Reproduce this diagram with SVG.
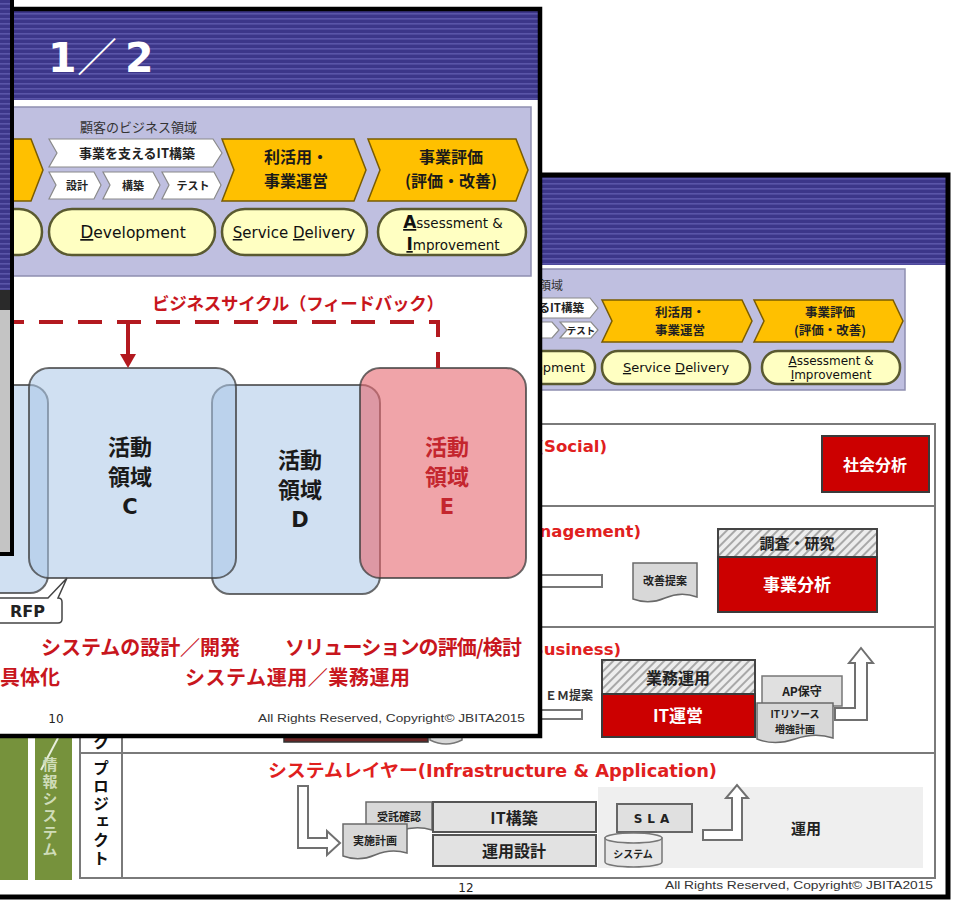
<svg xmlns="http://www.w3.org/2000/svg" width="955" height="902" viewBox="0 0 955 902">
<defs>
<pattern id="stripes" patternUnits="userSpaceOnUse" width="10" height="5">
<rect width="10" height="5" fill="#3c3689"/>
<rect y="3" width="10" height="1.6" fill="#5a55a8"/>
</pattern>
<pattern id="hatch" patternUnits="userSpaceOnUse" width="6" height="6" patternTransform="rotate(45)">
<rect width="6" height="6" fill="#ededed"/>
<rect width="2" height="6" fill="#a8a8a8"/>
</pattern>
</defs>
<style>
.jb{font-family:"Noto Sans CJK JP","Noto Sans",sans-serif;font-weight:700}
.j{font-family:"Noto Sans CJK JP","Noto Sans",sans-serif}
.vb{font-family:"DejaVu Sans","Liberation Sans",sans-serif;font-weight:700}
.v{font-family:"DejaVu Sans","Liberation Sans",sans-serif}
.ls{font-family:"Liberation Sans",Arial,sans-serif}
.vert{writing-mode:vertical-rl}
.yel{fill:#ffc000;stroke:#7a5c00;stroke-width:1.5}
.wch{fill:#ffffff;stroke:#8a8a8a;stroke-width:1.2}
.pill{fill:#ffffc2;stroke:#5a5a30;stroke-width:2.5}
.lav{fill:#bfbfe0;stroke:#8e8eb0;stroke-width:1.5}
.redbox{fill:#cc0000;stroke:#3a3a3a;stroke-width:2}
.doc{fill:#d8d8d8;stroke:#6a6a6a;stroke-width:1.5}
.gbox{fill:#e2e2e2;stroke:#555;stroke-width:2}
.harrow{fill:#ffffff;stroke:#707070;stroke-width:2}
.blue{fill:#a9c6e8;fill-opacity:0.55;stroke:#3c3c3c;stroke-opacity:0.75;stroke-width:2}
.pink{fill:#e66870;fill-opacity:0.6;stroke:#3c3c3c;stroke-opacity:0.75;stroke-width:2}
.rtxt{fill:#e0201e}
.ct{text-anchor:middle}
.u{text-decoration:underline}
</style>

<rect width="955" height="902" fill="#ffffff"/>

<!-- ===== Back slide (page 12) ===== -->
<g id="slide12">
<rect x="-300" y="175" width="1248" height="722" fill="#ffffff"/>
<rect x="-300" y="177" width="1246" height="88" fill="url(#stripes)"/>
<g id="s12-process">
<rect class="lav" x="460" y="269" width="445" height="121"/>
<text class="j" x="563" y="290" font-size="12" text-anchor="end" fill="#333">顧客のビジネス領域</text>
<polygon class="wch" points="440,298 590,298 598,308 590,318 440,318"/>
<text class="jb" x="584" y="312" font-size="11.5" text-anchor="end" fill="#222">事業を支えるIT構築</text>
<polygon class="wch" points="500,322 552,322 559,330 552,338 500,338"/>
<polygon class="wch" points="560,322 591,322 598,330 591,338 560,338 567,330"/>
<text class="jb ct" x="581" y="334" font-size="9.5" fill="#222">テスト</text>
<g id="s12-use">
<polygon class="yel" points="602,300 742,300 752,321 742,342 602,342 612,321"/>
<text class="jb ct" x="680" y="317" font-size="12.5" fill="#222">利活用・</text>
<text class="jb ct" x="680" y="335" font-size="12.5" fill="#222">事業運営</text>
</g>
<g id="s12-eval">
<polygon class="yel" points="754,300 893,300 903,321 893,342 754,342 764,321"/>
<text class="jb ct" x="830" y="317" font-size="12.5" fill="#222">事業評価</text>
<text class="jb ct" x="830" y="335" font-size="12.5" fill="#222">(評価・改善)</text>
</g>
<rect class="pill" x="460" y="351" width="135" height="33" rx="16"/>
<text class="v" x="585" y="372" font-size="13" text-anchor="end" fill="#111">Development</text>
<rect class="pill" x="602" y="351" width="148" height="33" rx="16"/>
<text class="v ct" x="676" y="372" font-size="13" fill="#111"><tspan class="u">S</tspan>ervice  <tspan class="u">D</tspan>elivery</text>
<rect class="pill" x="762" y="351" width="138" height="33" rx="16"/>
<text class="v ct" x="831" y="365" font-size="12" fill="#111"><tspan class="u">A</tspan>ssessment &amp;</text>
<text class="v ct" x="831" y="379" font-size="12" fill="#111"><tspan class="u">I</tspan>mprovement</text>
</g>

<g id="s12-table" fill="none" stroke="#7a7a7a" stroke-width="2">
<rect x="80" y="424" width="855" height="454"/>
<line x1="80" y1="506" x2="935" y2="506"/>
<line x1="80" y1="627" x2="935" y2="627"/>
<line x1="80" y1="753" x2="935" y2="753"/>
<line x1="122" y1="424" x2="122" y2="878"/>
</g>

<g id="s12-green">
<rect x="-5" y="600" width="33" height="280" fill="#76923c"/>
<rect x="35" y="600" width="37" height="280" fill="#76923c"/>
<line x1="58" y1="738" x2="41" y2="770" stroke="#e8eedc" stroke-width="2"/>
<text class="jb vert" x="50" y="757" font-size="15" letter-spacing="2" fill="#cfdcb8">情報システム</text>
</g>

<text class="jb ct" x="101" y="748" font-size="16" fill="#111">ク</text>
<text class="jb vert" x="101" y="760" font-size="16" letter-spacing="2" fill="#111">プロジェクト</text>

<!-- Row 1 Social -->
<g id="row-social">
<text class="vb rtxt" x="607" y="452" font-size="16.5" text-anchor="end">(Social)</text>
<g id="n-social-analysis">
<rect class="redbox" x="822" y="436" width="107" height="56"/>
<text class="jb ct" x="875" y="471" font-size="16" fill="#fff">社会分析</text>
</g>
</g>

<!-- Row 2 Management -->
<g id="row-management">
<text class="vb rtxt" x="641" y="537" font-size="16.5" text-anchor="end">(Management)</text>
<rect x="500" y="575" width="102" height="12" fill="#fff" stroke="#777" stroke-width="2"/>
<g id="n-kaizen">
<path class="doc" d="M633,563 H697 V597 Q681,591 665,598 Q649,605 633,599 Z"/>
<text class="jb ct" x="665" y="585" font-size="11" fill="#222">改善提案</text>
</g>
<g id="n-research">
<rect x="718" y="529" width="159" height="28" fill="url(#hatch)" stroke="#444" stroke-width="2"/>
<text class="jb ct" x="797" y="549" font-size="15" fill="#222">調査・研究</text>
</g>
<g id="n-biz-analysis">
<rect class="redbox" x="718" y="557" width="159" height="55"/>
<text class="jb ct" x="797" y="591" font-size="17" fill="#fff">事業分析</text>
</g>
</g>

<!-- Row 3 Business -->
<g id="row-business">
<text class="vb rtxt" x="621" y="655" font-size="16.5" text-anchor="end">(Business)</text>
<text class="jb" x="545" y="700" font-size="12" fill="#333">ＥＭ提案</text>
<rect x="500" y="710" width="82" height="9" fill="#fff" stroke="#777" stroke-width="2"/>
<rect x="284" y="726" width="144" height="16" fill="#6a2424" stroke="#333" stroke-width="1.5"/>
<path d="M430,732 V740 Q446,748 462,740 V732" fill="#d8d8d8" stroke="#777" stroke-width="1.5"/>
<g id="n-gyomu">
<rect x="602" y="660" width="153" height="34" fill="url(#hatch)" stroke="#444" stroke-width="2"/>
<text class="jb ct" x="678" y="684" font-size="16" fill="#222">業務運用</text>
</g>
<g id="n-itunei">
<rect class="redbox" x="602" y="694" width="153" height="43"/>
<text class="jb ct" x="678" y="722" font-size="17" fill="#fff">IT運営</text>
</g>
<g id="n-ap">
<rect x="762" y="676" width="80" height="30" fill="#e0e0e0" stroke="#777" stroke-width="1.5"/>
<text class="jb ct" x="802" y="696" font-size="12" fill="#222">AP保守</text>
</g>
<g id="n-itres">
<path class="doc" d="M757,703 H833 V738 Q815,732 795,739 Q775,746 757,739 Z"/>
<text class="jb ct" x="795" y="718" font-size="10" fill="#222">ITリソース</text>
<text class="jb ct" x="795" y="733" font-size="10" fill="#222">増強計画</text>
</g>
</g>

<!-- Row 4 System -->
<g id="row-system">
<text class="rtxt" x="268" y="777" textLength="449" lengthAdjust="spacingAndGlyphs"><tspan class="jb" font-size="18">システムレイヤー</tspan><tspan class="vb" font-size="17">(Infrastructure &amp; Application)</tspan></text>
<rect x="598" y="787" width="325" height="81" fill="#efefef"/>
<g id="n-jutaku">
<path class="doc" d="M366,802 H432 V830 Q416,825 400,831 Q384,837 366,832 Z"/>
<text class="jb ct" x="399" y="821" font-size="11" fill="#222">受託確認</text>
</g>
<g id="n-jisshi">
<path class="doc" d="M343,824 H407 V853 Q391,848 375,855 Q359,862 343,856 Z"/>
<text class="jb ct" x="375" y="845" font-size="11" fill="#222">実施計画</text>
</g>
<g id="n-itkochiku">
<rect class="gbox" x="433" y="802" width="163" height="30"/>
<text class="jb ct" x="514" y="824" font-size="16" fill="#222">IT構築</text>
</g>
<g id="n-unyosekkei">
<rect class="gbox" x="433" y="835" width="163" height="31"/>
<text class="jb ct" x="514" y="857" font-size="16" fill="#222">運用設計</text>
</g>
<g id="n-sla">
<rect x="617" y="804" width="75" height="28" fill="#e0e0e0" stroke="#666" stroke-width="2"/>
<text class="vb ct" x="654" y="823" font-size="12" fill="#222" letter-spacing="5">SLA</text>
</g>
<g id="n-system">
<path d="M605,838 V862 A28.5,5 0 0 0 662,862 V838 Z" fill="#e6e6e6" stroke="#777" stroke-width="1.5"/>
<ellipse cx="633.5" cy="838" rx="28.5" ry="5" fill="#f2f2f2" stroke="#777" stroke-width="1.5"/>
<text class="jb ct" x="633" y="858" font-size="10" fill="#222">システム</text>
</g>
<text class="jb ct" x="806" y="834" font-size="15" fill="#222">運用</text>
</g>

<g id="connectors-slide12">
<polygon class="harrow" points="835,708 855,708 855,663 849,663 861,648 873,663 867,663 867,720 835,720"/>
<polygon class="harrow" points="298,786 308,786 308,838 327,838 327,831 340,843 327,855 327,848 298,848"/>
<polygon class="harrow" points="703,830 732,830 732,798 726,798 737,785 748,798 742,798 742,840 703,840"/>
</g>

<text class="v ct" x="466" y="892" font-size="12" fill="#222">12</text>
<text class="ls" x="665" y="889" font-size="11" fill="#333" textLength="268" lengthAdjust="spacingAndGlyphs">All Rights Reserved, Copyright© JBITA2015</text>
<rect x="-300" y="175" width="1248" height="722" fill="none" stroke="#000" stroke-width="5"/>
</g>

<!-- ===== Front slide (page 10) ===== -->
<g id="slide10">
<rect x="-400" y="9" width="940" height="727" fill="#ffffff"/>
<rect x="-400" y="11" width="938" height="89" fill="url(#stripes)"/>
<text fill="#ffffff" y="72"><tspan class="vb" x="48" font-size="41">1</tspan><tspan class="j" x="77" font-size="40">／</tspan><tspan class="vb" x="125" font-size="41">2</tspan></text>

<g id="s10-process">
<rect class="lav" x="-20" y="107" width="551" height="169"/>
<text class="j" x="80" y="132" font-size="13" fill="#333">顧客のビジネス領域</text>
<polygon class="yel" points="-40,139 31,139 43,170 31,201 -40,201"/>
<g id="n-it-build">
<polygon class="wch" points="49,139 213,139 222,153 213,167 49,167 57,153"/>
<text class="jb ct" x="137" y="158" font-size="13" fill="#222">事業を支えるIT構築</text>
</g>
<g id="n-sekkei"><polygon class="wch" points="49,172 94,172 101,185 94,199 49,199 56,185"/><text class="jb ct" x="77" y="190" font-size="11" fill="#222">設計</text></g>
<g id="n-kochiku"><polygon class="wch" points="103,172 153,172 160,185 153,199 103,199 110,185"/><text class="jb ct" x="133" y="190" font-size="11" fill="#222">構築</text></g>
<g id="n-test"><polygon class="wch" points="162,172 214,172 221,185 214,199 162,199 169,185"/><text class="jb ct" x="193" y="190" font-size="11" fill="#222">テスト</text></g>
<g id="n-use">
<polygon class="yel" points="222,139 354,139 366,170 354,201 222,201 234,170"/>
<text class="jb ct" x="296" y="163" font-size="16" fill="#1a1a1a">利活用・</text>
<text class="jb ct" x="296" y="187" font-size="16" fill="#1a1a1a">事業運営</text>
</g>
<g id="n-eval">
<polygon class="yel" points="368,139 516,139 528,170 516,201 368,201 380,170"/>
<text class="jb ct" x="451" y="163" font-size="16" fill="#1a1a1a">事業評価</text>
<text class="jb ct" x="451" y="187" font-size="16" fill="#1a1a1a">(評価・改善)</text>
</g>
<rect class="pill" x="-60" y="209" width="102" height="46" rx="23"/>
<g id="n-dev"><rect class="pill" x="49" y="209" width="166" height="46" rx="23"/>
<text class="v ct" x="133" y="238" font-size="15.5" fill="#111"><tspan class="u" font-size="17">D</tspan>evelopment</text></g>
<g id="n-sd"><rect class="pill" x="222" y="209" width="145" height="46" rx="23"/>
<text class="v ct" x="294" y="238" font-size="15" fill="#111"><tspan class="u">S</tspan>ervice <tspan class="u">D</tspan>elivery</text></g>
<g id="n-ai"><rect class="pill" x="378" y="209" width="148" height="46" rx="23"/>
<text class="v ct" x="453" y="228" font-size="13.5" fill="#111"><tspan class="u vb" font-size="17">A</tspan>ssessment &amp;</text>
<text class="v ct" x="453" y="250" font-size="13.5" fill="#111"><tspan class="u vb" font-size="17">I</tspan>mprovement</text></g>
</g>

<text class="jb" x="152" y="310" font-size="17.5" fill="#c8161d" textLength="292">ビジネスサイクル（フィードバック）</text>

<g id="n-areaB"><rect class="blue" x="-150" y="385" width="198" height="208" rx="18"/></g>
<g id="n-areaD"><rect class="blue" x="212" y="385" width="168" height="209" rx="18"/></g>
<g id="n-areaC"><rect class="blue" x="29" y="368" width="207" height="210" rx="20"/></g>
<g id="n-areaE"><rect class="pink" x="360" y="368" width="166" height="210" rx="20"/></g>
<text class="jb ct" x="130" y="455" font-size="22" fill="#1a1a1a">活動</text>
<text class="jb ct" x="130" y="485" font-size="22" fill="#1a1a1a">領域</text>
<text class="vb ct" x="130" y="514" font-size="21" fill="#1a1a1a">C</text>
<text class="jb ct" x="300" y="468" font-size="22" fill="#1a1a1a">活動</text>
<text class="jb ct" x="300" y="498" font-size="22" fill="#1a1a1a">領域</text>
<text class="vb ct" x="300" y="527" font-size="21" fill="#1a1a1a">D</text>
<text class="jb ct" x="447" y="455" font-size="22" fill="#c4262e">活動</text>
<text class="jb ct" x="447" y="485" font-size="22" fill="#c4262e">領域</text>
<text class="vb ct" x="447" y="514" font-size="21" fill="#c4262e">E</text>

<g id="connectors-slide10">
<path d="M0,322 H438 V368" fill="none" stroke="#b3191f" stroke-width="4" stroke-dasharray="24 15"/>
<path d="M128,322 V356" fill="none" stroke="#b3191f" stroke-width="4"/>
<polygon points="120,354 136,354 128,368" fill="#b3191f"/>
</g>

<g id="n-rfp">
<path d="M-5,598 H48 L67,578 L58,598 Q62,598 62,602 V619 Q62,623 58,623 H-5 Z" fill="#fff" stroke="#444" stroke-width="1.5"/>
<text class="vb" x="10" y="617" font-size="16" fill="#222">RFP</text>
</g>

<g font-size="20" fill="#c8161d">
<text class="jb" x="41" y="655" textLength="199">システムの設計／開発</text>
<text class="jb" x="285" y="655" textLength="237">ソリューションの評価/検討</text>
<text class="jb" x="0" y="685">具体化</text>
<text class="jb" x="185" y="685" textLength="225">システム運用／業務運用</text>
</g>

<text class="v ct" x="56" y="723" font-size="12" fill="#222">10</text>
<text class="ls" x="258" y="722" font-size="11" fill="#333" textLength="267" lengthAdjust="spacingAndGlyphs">All Rights Reserved, Copyright© JBITA2015</text>
<rect x="-400" y="9" width="940" height="727" fill="none" stroke="#000" stroke-width="4.5"/>
</g>

<!-- ===== Third slide sliver (top-left) ===== -->
<g id="slide-left">
<rect x="-300" y="-10" width="312" height="565" fill="#c4c4c4"/>
<rect x="-300" y="-10" width="311" height="300" fill="url(#stripes)"/>
<rect x="-300" y="290" width="311" height="20" fill="#2a2a2a"/>
<rect x="-300" y="-10" width="312" height="564" fill="none" stroke="#000" stroke-width="4"/>
</g>
</svg>
